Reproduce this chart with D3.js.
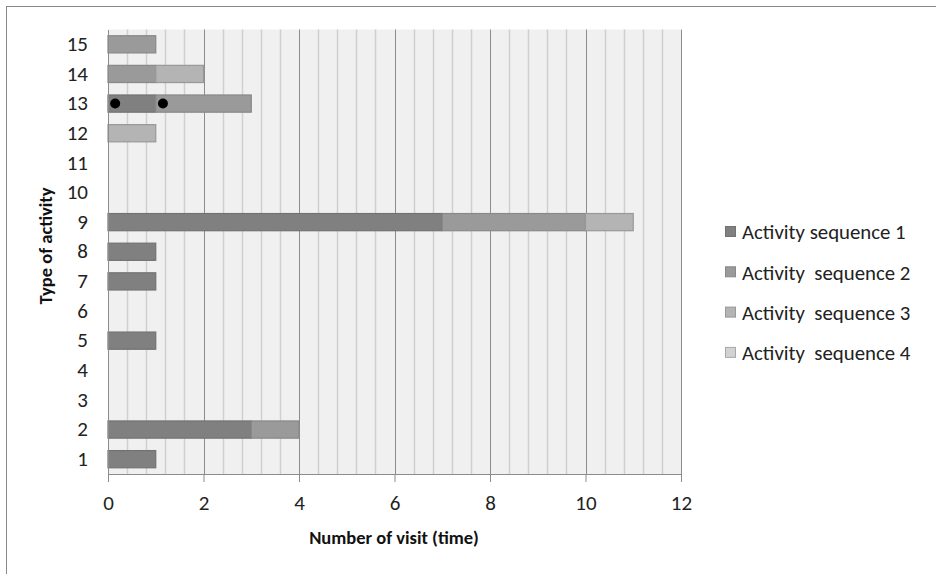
<!DOCTYPE html>
<html><head><meta charset="utf-8">
<script src="https://cdn.jsdelivr.net/npm/d3@7"></script>
<style>body{margin:0;background:#fff;} text{font-family:Carlito,Lato,"Open Sans",sans-serif;}</style>
</head><body>
<svg id="c" width="936" height="574"></svg>
<script>
const categories = [1,2,3,4,5,6,7,8,9,10,11,12,13,14,15];
const seriesNames = ["Activity sequence 1","Activity  sequence 2","Activity  sequence 3","Activity  sequence 4"];
const seq1 = [1,3,0,0,1,0,1,1,7,0,0,0,1,0,0];
const seq2 = [0,1,0,0,0,0,0,0,3,0,0,0,2,1,1];
const seq3 = [0,0,0,0,0,0,0,0,1,0,0,1,0,1,0];
const seq4 = [0,0,0,0,0,0,0,0,0,0,0,0,0,0,0];
const colors = ["#808080","#9a9a9a","#b4b4b4","#d2d2d2"];
const strokes = ["#727272","#888888","#989898","#a8a8a8"];
const xTicks = [0,2,4,6,8,10,12];
const dotCategory = [13,13];
const dotValues = [0.15,1.15];

const svg = d3.select("#c");
svg.append("rect").attr("x",6.5).attr("y",6.5).attr("width",960).attr("height",600)
  .attr("fill","#fff").attr("stroke","#888").attr("stroke-width",1);

const L=108, R=681, T=29.5, B=474;
const x = d3.scaleLinear().domain([0,12]).range([L,R]);
const y = d3.scaleBand().domain(categories.slice().reverse()).range([T,B]).paddingInner(0.42).paddingOuter(0.21);

svg.append("rect").attr("x",L).attr("y",T).attr("width",R-L).attr("height",B-T).attr("fill","#f0f0f0");

const minor = d3.range(0,12.001,0.4).filter(v=>Math.abs(v/2-Math.round(v/2))>1e-6);
svg.append("g").selectAll("line").data(minor).join("line")
  .attr("x1",d=>Math.round(x(d))+0.5).attr("x2",d=>Math.round(x(d))+0.5).attr("y1",T).attr("y2",B)
  .attr("stroke","#cfcfcf").attr("stroke-width",1.5);
svg.append("g").selectAll("line").data(xTicks.slice(1)).join("line")
  .attr("x1",d=>Math.round(x(d))+0.5).attr("x2",d=>Math.round(x(d))+0.5).attr("y1",T).attr("y2",B)
  .attr("stroke","#8c8c8c").attr("stroke-width",1);

const table = categories.map((c,i)=>({cat:c, s0:seq1[i], s1:seq2[i], s2:seq3[i], s3:seq4[i]}));
const stack = d3.stack().keys(["s0","s1","s2","s3"])(table);
stack.forEach((layer,k)=>{
  svg.append("g").selectAll("rect").data(layer.filter(d=>d[1]-d[0]>0)).join("rect")
    .attr("x",d=>x(d[0])).attr("width",d=>x(d[1])-x(d[0]))
    .attr("y",d=>y(d.data.cat)).attr("height",y.bandwidth())
    .attr("fill",colors[k]).attr("stroke",strokes[k]).attr("stroke-width",1.2);
});

svg.append("g").selectAll("circle").data(dotValues.map((v,i)=>({v,c:dotCategory[i]}))).join("circle")
  .attr("cx",d=>x(d.v)).attr("cy",d=>y(d.c)+y.bandwidth()/2).attr("r",5).attr("fill","#000");

const xa = svg.append("g").attr("transform",`translate(0,${B})`)
  .call(d3.axisBottom(x).tickValues(xTicks).tickSize(8).tickPadding(13).tickFormat(d3.format("d")));
xa.attr("font-size",21);
xa.select(".domain").attr("stroke","#8c8c8c");
xa.selectAll(".tick line").attr("stroke","#8c8c8c");
xa.selectAll("text").attr("fill","#222");

const ya = svg.append("g").attr("transform",`translate(${L},0)`)
  .call(d3.axisLeft(y).tickSize(0).tickPadding(20));
ya.attr("font-size",21);
ya.select(".domain").attr("stroke","#8c8c8c");
ya.selectAll("text").attr("fill","#222");

svg.append("text").attr("x",394).attr("y",544).attr("text-anchor","middle")
  .attr("font-size",18.5).attr("font-weight","bold").attr("fill","#111").text("Number of visit (time)");
svg.append("text").attr("transform","translate(52,246) rotate(-90)").attr("text-anchor","middle")
  .attr("font-size",18.5).attr("font-weight","bold").attr("fill","#111").text("Type of activity");

const lg = svg.append("g");
seriesNames.forEach((n,i)=>{
  const yy = 232 + i*40.3;
  lg.append("rect").attr("x",725.5).attr("y",yy-5.5).attr("width",10).attr("height",10)
    .attr("fill",colors[i]).attr("stroke",strokes[i]);
  lg.append("text").attr("x",742).attr("y",yy).attr("dy","0.35em").attr("font-size",20.8)
    .attr("fill","#222").style("white-space","pre").text(n);
});
</script>
</body></html>
